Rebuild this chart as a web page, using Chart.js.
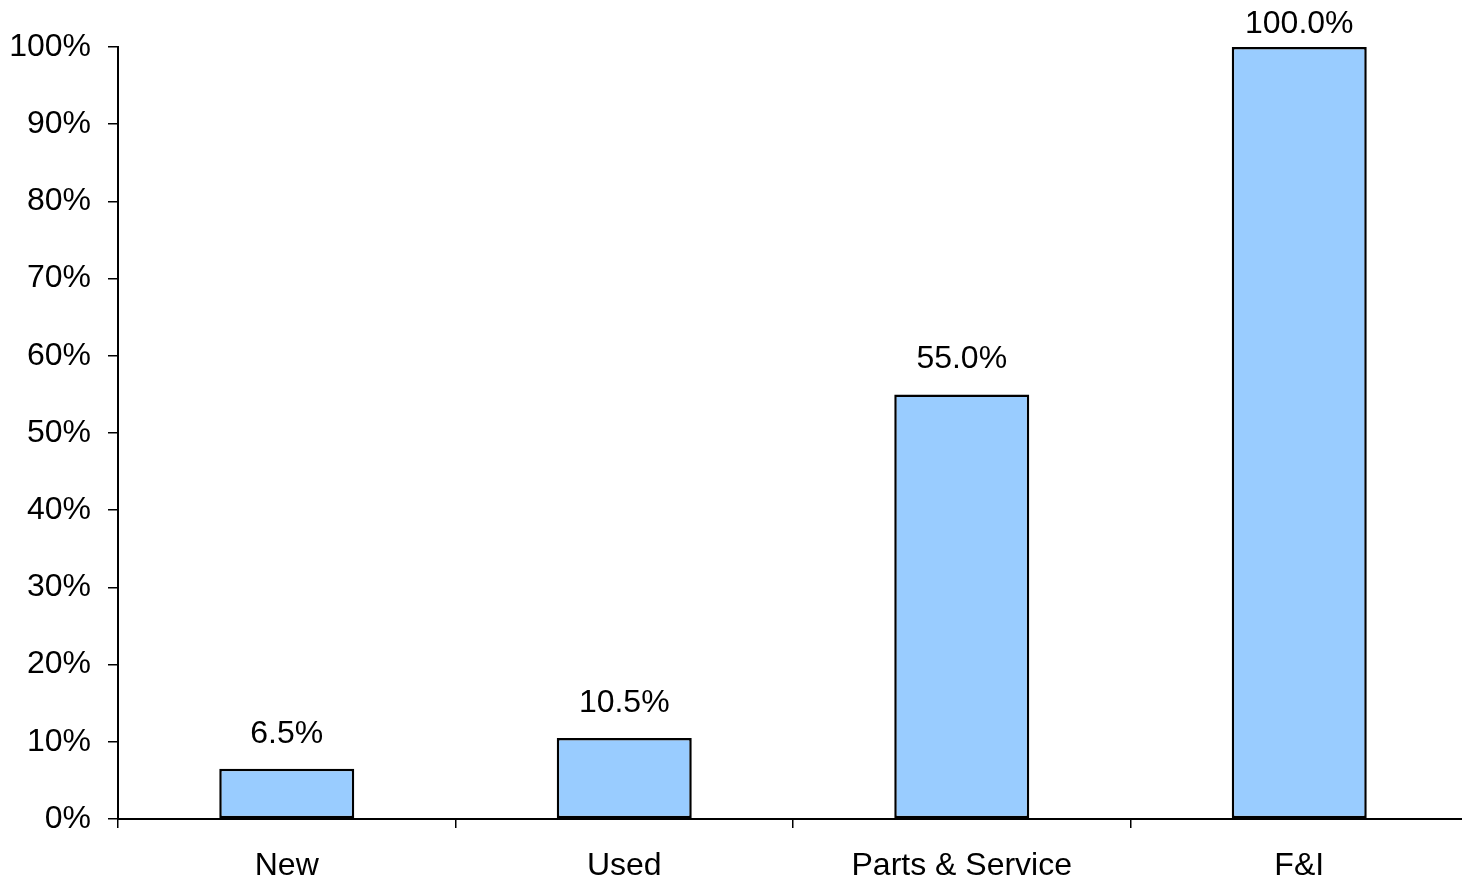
<!DOCTYPE html>
<html>
<head>
<meta charset="utf-8">
<script src="https://cdn.jsdelivr.net/npm/chart.js@4"></script>
<style>
html,body{margin:0;padding:0;background:#fff;overflow:hidden;}
#wrap{width:1468px;height:879px;position:relative;}
</style>
</head>
<body>
<div id="wrap"><canvas id="c"></canvas></div>
<script>
const categories = ["New", "Used", "Parts & Service", "F&I"];
const values = [6.5, 10.5, 55.0, 100.0];
const yTicks = [0, 10, 20, 30, 40, 50, 60, 70, 80, 90, 100];

const FONT = "'Liberation Sans', Arial, sans-serif";

const labelPlugin = {
  id: 'barLabels',
  afterDatasetsDraw(chart) {
    const ctx = chart.ctx;
    const meta = chart.getDatasetMeta(0);
    ctx.save();
    ctx.font = "32px " + FONT;
    ctx.fillStyle = "#000";
    ctx.textAlign = "center";
    ctx.textBaseline = "alphabetic";
    meta.data.forEach((bar, i) => {
      ctx.fillText(values[i].toFixed(1) + "%", bar.x, Math.max(bar.y - 26, 33));
    });
    ctx.restore();
  }
};

new Chart(document.getElementById('c'), {
  type: 'bar',
  data: {
    labels: categories,
    datasets: [{
      data: values,
      backgroundColor: '#99CCFF',
      borderColor: '#000',
      borderWidth: 2.5,
      borderSkipped: false,
      categoryPercentage: 1.0,
      barPercentage: 0.4
    }]
  },
  options: {
    responsive: true,
    maintainAspectRatio: false,
    animation: false,
    devicePixelRatio: 1,
    layout: { padding: { top: 47, right: 0, left: 0, bottom: 0 } },
    plugins: { legend: { display: false }, tooltip: { enabled: false } },
    scales: {
      x: {
        afterFit(s) { s.height = 60; },
        grid: { offset: true, drawOnChartArea: false, drawTicks: true, tickLength: 9, color: '#000', lineWidth: 1.5 },
        border: { color: '#000', width: 2 },
        ticks: { color: '#000', font: { family: FONT, size: 32 }, padding: 19, maxRotation: 0 }
      },
      y: {
        min: 0, max: 100,
        afterFit(s) { s.width = 118; },
        afterBuildTicks(s) { s.ticks = yTicks.map(v => ({ value: v })); },
        grid: { drawOnChartArea: false, drawTicks: true, tickLength: 10, color: '#000', lineWidth: 1.5 },
        border: { color: '#000', width: 2 },
        ticks: { color: '#000', font: { family: FONT, size: 32 }, padding: 17, callback: v => v + '%' }
      }
    }
  },
  plugins: [labelPlugin]
});
</script>
</body>
</html>
